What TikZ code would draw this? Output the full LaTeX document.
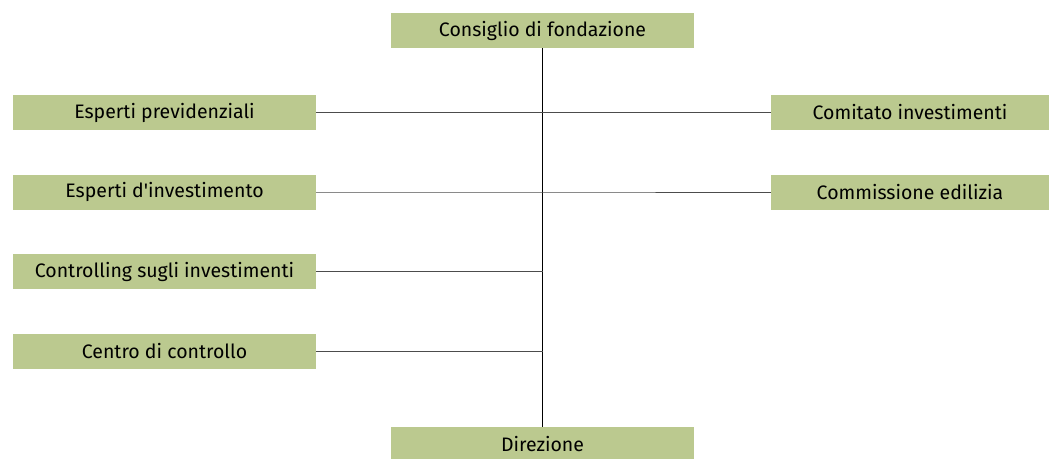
\documentclass[tikz,border=0pt]{standalone}
\usepackage{fontspec}
\setmainfont{Fira Sans}
\usetikzlibrary{positioning}
\definecolor{boxgreen}{RGB}{187,201,143}

\begin{document}
\begin{tikzpicture}[x=1pt,y=-1pt]
      \tikzstyle{point} = [coordinate]
      \tikzstyle{box} = [rectangle, fill=boxgreen, inner sep=0pt, minimum width=303pt, minimum height=35pt, font=\fontsize{19.5}{22}\selectfont]
      \tikzstyle{rbox} = [box, minimum width=278pt]
      \tikzstyle{spine} = [line width=1.2pt, black]
      \tikzstyle{branch} = [line width=1pt, black!70]
      \useasboundingbox (0,0) rectangle (1064,458);
      % top and bottom
      \node (cdf) [box] at (542.5,30.5) {Consiglio di fondazione};
      \node (dir) [box] at (542.5,444.5) {Direzione};
      % left column
      \node (prev) [box] at (164.5,112.5) {Esperti previdenziali};
      \node (inv) [box] at (164.5,192) {Esperti d\textquotesingle investimento};
      \node (ctrl) [box] at (164.5,271.5) {Controlling sugli investimenti};
      \node (cen) [box] at (164.5,351) {Centro di controllo};
      % right column
      \node (com) [rbox] at (910,112.5) {Comitato investimenti};
      \node (edi) [rbox] at (910,192) {Commissione edilizia};
      % junctions on the spine
      \node (j1) [point] at (cdf.south |- prev.east) {};
      \node (j2) [point] at (cdf.south |- inv.east) {};
      \node (j3) [point] at (cdf.south |- ctrl.east) {};
      \node (j4) [point] at (cdf.south |- cen.east) {};
      \draw [spine] (cdf.south)--(dir.north);
      \draw [branch] (prev.east)--(j1)--(com.west);
      \draw [branch] (inv.east)--(j2)--(edi.west);
      \draw [branch] (ctrl.east)--(j3);
      \draw [branch] (cen.east)--(j4);
    \end{tikzpicture}
\end{document}
